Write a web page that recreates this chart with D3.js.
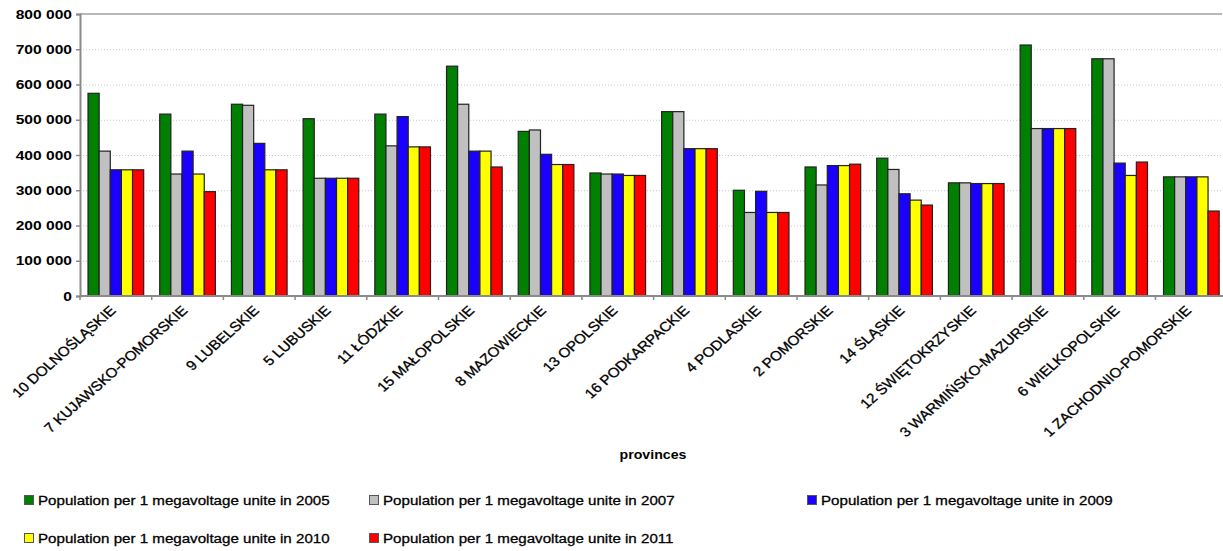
<!DOCTYPE html>
<html>
<head>
<meta charset="utf-8">
<script src="https://cdn.jsdelivr.net/npm/d3@7"></script>
<style>
  html, body { margin: 0; padding: 0; background: #fff; }
  svg { display: block; font-family: "Liberation Sans", Arial, sans-serif; }
</style>
</head>
<body>
<svg id="chart" width="1223" height="551"></svg>
<script>
// Provinces along the x axis
const provinces = [
  "10 DOLNOŚLĄSKIE", "7 KUJAWSKO-POMORSKIE", "9 LUBELSKIE", "5 LUBUSKIE",
  "11 ŁÓDZKIE", "15 MAŁOPOLSKIE", "8 MAZOWIECKIE", "13 OPOLSKIE",
  "16 PODKARPACKIE", "4 PODLASKIE", "2 POMORSKIE", "14 ŚLĄSKIE",
  "12 ŚWIĘTOKRZYSKIE", "3 WARMIŃSKO-MAZURSKIE", "6 WIELKOPOLSKIE", "1 ZACHODNIO-POMORSKIE"
];

// Population per one megavoltage unit, by year
const years = ["2005", "2007", "2009", "2010", "2011"];
const pop2005 = [575000, 516000, 544000, 503000, 516000, 652000, 467000, 349000, 523000, 300000, 366000, 391000, 321000, 712000, 673000, 338000];
const pop2007 = [411000, 346000, 541000, 334000, 426000, 544000, 471000, 346000, 523000, 237000, 315000, 359000, 321000, 475000, 673000, 338000];
const pop2009 = [358000, 411000, 433000, 334000, 509000, 411000, 402000, 346000, 418000, 297000, 370000, 290000, 319000, 475000, 377000, 338000];
const pop2010 = [358000, 346000, 358000, 334000, 423000, 411000, 373000, 342000, 418000, 237000, 370000, 272000, 319000, 475000, 342000, 338000];
const pop2011 = [358000, 296000, 358000, 334000, 423000, 366000, 373000, 342000, 418000, 237000, 374000, 258000, 319000, 475000, 380000, 241000];
const seriesValues = [pop2005, pop2007, pop2009, pop2010, pop2011];
const seriesColors = ["#008000", "#c0c0c0", "#1a00ff", "#ffff00", "#ff0000"];

// Y axis ticks
const yTicks = [0, 100000, 200000, 300000, 400000, 500000, 600000, 700000, 800000];
const yTickLabels = ["0", "100 000", "200 000", "300 000", "400 000", "500 000", "600 000", "700 000", "800 000"];
const xTitle = "provinces";
const legendLabel = y => "Population per 1 megavoltage unite in " + y;

const svg = d3.select("#chart");

const plotLeft = 80, plotTop = 14, plotBottom = 296, step = 71.7;

const x = d3.scaleBand()
  .domain(provinces)
  .range([plotLeft, plotLeft + step * provinces.length])
  .paddingInner(0).paddingOuter(0);

const xInner = d3.scaleBand()
  .domain(years)
  .range([0, x.bandwidth()])
  .paddingInner(0)
  .paddingOuter(0.72);

const y = d3.scaleLinear().domain([0, 800000]).range([plotBottom, plotTop]);

// Dotted gridlines
svg.append("g")
  .selectAll("line")
  .data(yTicks.filter(t => t > 0 && t < 800000))
  .join("line")
  .attr("x1", plotLeft).attr("x2", 1223)
  .attr("y1", d => y(d) + 0.5).attr("y2", d => y(d) + 0.5)
  .attr("stroke", "#c8c8c8")
  .attr("stroke-width", 1)
  .attr("stroke-dasharray", "1,2");

// Top frame line
svg.append("line")
  .attr("x1", plotLeft).attr("x2", 1222)
  .attr("y1", y(800000)).attr("y2", y(800000))
  .attr("stroke", "#a0a0a0").attr("stroke-width", 1.5);

// Bars
const groups = svg.append("g")
  .selectAll("g")
  .data(provinces)
  .join("g")
  .attr("transform", d => `translate(${x(d)},0)`);

groups.selectAll("rect")
  .data((p, i) => years.map((yr, s) => ({ yr, s, v: seriesValues[s][i] })))
  .join("rect")
  .attr("x", d => xInner(d.yr))
  .attr("width", xInner.bandwidth())
  .attr("y", d => y(d.v))
  .attr("height", d => y(0) - y(d.v))
  .attr("fill", d => seriesColors[d.s])
  .attr("stroke", "#222")
  .attr("stroke-width", 1.2);

// Y axis
const yAxis = d3.axisLeft(y)
  .tickValues(yTicks)
  .tickSize(4)
  .tickFormat((d, i) => yTickLabels[i]);

const yg = svg.append("g")
  .attr("transform", `translate(${plotLeft},0)`)
  .call(yAxis);
yg.select(".domain").attr("stroke", "#8a8a8a").attr("stroke-width", 2);
yg.selectAll(".tick line").attr("stroke", "#8a8a8a").attr("stroke-width", 1.5);
yg.selectAll(".tick text")
  .attr("x", null)
  .attr("dy", "0.35em")
  .attr("font-size", 12)
  .attr("font-weight", "bold")
  .attr("fill", "#000")
  .attr("transform", "translate(-8,0) scale(1.3,1)");

// X axis with ticks at group boundaries
const xg = svg.append("g");
xg.append("line")
  .attr("x1", plotLeft).attr("x2", 1223)
  .attr("y1", plotBottom).attr("y2", plotBottom)
  .attr("stroke", "#8a8a8a").attr("stroke-width", 2);
xg.selectAll("line.tk")
  .data(provinces)
  .join("line")
  .attr("class", "tk")
  .attr("x1", d => x(d)).attr("x2", d => x(d))
  .attr("y1", plotBottom).attr("y2", plotBottom + 4)
  .attr("stroke", "#8a8a8a").attr("stroke-width", 1.5);

xg.selectAll("text")
  .data(provinces)
  .join("text")
  .attr("transform", d => `translate(${x(d) + x.bandwidth() / 2 - 3},308) scale(1.13,1) rotate(-45)`)
  .attr("text-anchor", "end")
  .attr("dy", "0.35em")
  .attr("font-size", 13.5)
  .attr("fill", "#000")
  .attr("stroke", "#000")
  .attr("stroke-width", 0.3)
  .text(d => d);

// Axis title
svg.append("text")
  .attr("transform", "translate(653,459) scale(1.18,1)")
  .attr("text-anchor", "middle")
  .attr("font-size", 12)
  .attr("font-weight", "bold")
  .attr("fill", "#000")
  .text(xTitle);

// Legend
const legendPos = [
  [24, 505], [369, 505], [807, 505],
  [24, 543], [369, 543]
];
const lg = svg.append("g")
  .selectAll("g")
  .data(years)
  .join("g")
  .attr("transform", (d, i) => `translate(${legendPos[i][0]},${legendPos[i][1]})`);
lg.append("rect")
  .attr("x", 0.5).attr("y", -9.5)
  .attr("width", 9).attr("height", 9)
  .attr("fill", (d, i) => seriesColors[i])
  .attr("stroke", "#555").attr("stroke-width", 1);
lg.append("text")
  .attr("transform", "translate(14,0) scale(1.12,1)")
  .attr("font-size", 13.5)
  .attr("fill", "#000")
  .attr("stroke", "#000")
  .attr("stroke-width", 0.3)
  .text(d => legendLabel(d));
</script>
</body>
</html>
